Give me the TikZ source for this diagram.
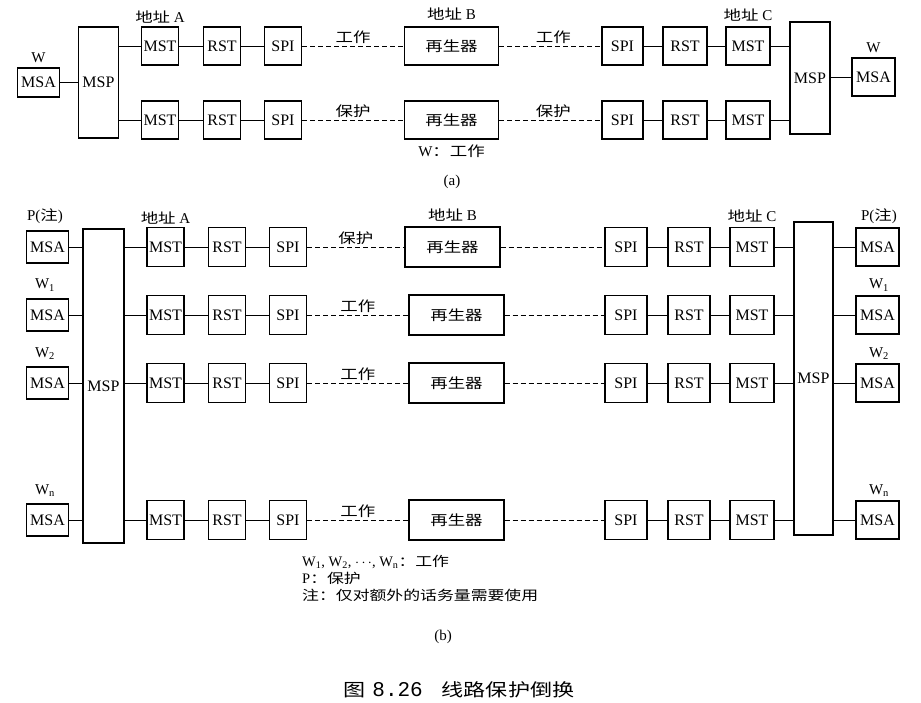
\documentclass[tikz,border=0pt]{standalone}
\usepackage{fontspec}
\setmainfont{Liberation Serif}
\setmonofont{Liberation Mono}
\newfontfamily\cjk[FakeStretch=1.25, Scale=0.93]{Noto Sans CJK SC}
\newcommand{\zh}[1]{{\cjk #1}}
\usetikzlibrary{positioning}

\begin{document}
\begin{tikzpicture}[
  x=1pt, y=-1pt,
  font=\fontsize{16}{18}\selectfont,
  box/.style={
    draw=black, line width=1.3pt,
    inner sep=0pt, minimum width=37pt, minimum height=38pt
  },
  msa/.style  ={box, minimum width=42pt, minimum height=32pt},
  msp/.style  ={box, minimum width=40pt},
  regen/.style={box, minimum width=94pt, font=\cjk\fontsize{15}{17}\selectfont},
  wire/.style ={draw=black, line width=0.7pt},
  link/.style ={draw=black, line width=0.8pt, dash pattern=on 5pt off 3pt},
  tag/.style  ={font=\fontsize{15}{17}\selectfont, inner sep=2pt},
  addr/.style ={tag, inner sep=1pt},
]
\useasboundingbox (0,0) rectangle (921,703);

% ---------- (a) ----------
\node[msa, minimum height=29pt] (msaLa) at (38.5,82.5) {MSA};
\node[tag, above=2pt of msaLa] (tagLa) {W};
\node[msp, minimum height=111pt] (mspLa) at (98.5,82.5) {MSP};
\node[msp, minimum height=112pt] (mspRa) at (810,78) {MSP};
\node[msa, minimum width=43pt, minimum height=38pt] (msaRa) at (873.5,77) {MSA};
\node[tag, above=2pt of msaRa] (tagRa) {W};

\foreach \r/\y/\lab in {1/46/工作, 2/120/保护} {
  \node[box] (mstA\r) at (160,\y) {MST};
  \node[box] (rstA\r) at (222,\y) {RST};
  \node[box] (spiA\r) at (283,\y) {SPI};
  \node[regen] (regA\r) at (451.5,\y) {再生器};
  \node[box, minimum width=41pt] (spiC\r) at (622.5,\y) {SPI};
  \node[box, minimum width=44pt] (rstC\r) at (685,\y) {RST};
  \node[box, minimum width=44pt] (mstC\r) at (748,\y) {MST};

  \draw[wire] (mspLa.east |- mstA\r) -- (mstA\r) -- (rstA\r) -- (spiA\r);
  \draw[link] (spiA\r) -- node[tag, above] {\zh{\lab}} (regA\r);
  \draw[link] (regA\r) -- node[tag, above, xshift=3pt] {\zh{\lab}} (spiC\r);
  \draw[wire] (spiC\r) -- (rstC\r) -- (mstC\r) -- (mstC\r -| mspRa.west);
}
\draw[wire] (msaLa) -- (msaLa -| mspLa.west);
\draw[wire] (mspRa.east |- msaRa) -- (msaRa);

\node[addr, above=1.5pt of mstA1] (siteA) {\zh{地址} A};
\node[addr, above=4.5pt of regA1] (siteB) {\zh{地址} B};
\node[addr, above=4pt of mstC1] (siteC) {\zh{地址} C};
\node[tag, below=3pt of regA2] (noteA) {W\zh{：工作}};
\node[tag] (capA) at (452,182) {(a)};

% ---------- (b) ----------
\node[msp, minimum width=41pt, minimum height=314pt] (mspL) at (103.5,386) {MSP};
\node[msp, minimum width=39pt, minimum height=313pt] (mspR) at (813.5,378.5) {MSP};

\foreach \r/\y/\rx/\lab/\tg in {1/247/452.5/保护/P(\zh{注}),
    2/315/456.5/工作/W\textsubscript{1}, 3/383/456.5/工作/W\textsubscript{2},
    4/520/456.5/工作/W\textsubscript{n}} {
  \node[msa] (msaL\r) at (47.5,\y) {MSA};
  \node[tag, anchor=base] (tagL\r) at (45,\y-26) {\tg};
  \node[box, minimum height=39pt] (mstL\r) at (165.5,\y) {MST};
  \node[box, minimum height=39pt] (rstL\r) at (227,\y) {RST};
  \node[box, minimum height=39pt] (spiL\r) at (288,\y) {SPI};
  \node[regen, minimum width=95pt, minimum height=40pt] (reg\r) at (\rx,\y) {再生器};
  \node[box, minimum width=42pt, minimum height=39pt] (spiR\r) at (626,\y) {SPI};
  \node[box, minimum width=42pt, minimum height=39pt] (rstR\r) at (689,\y) {RST};
  \node[box, minimum width=44pt, minimum height=39pt] (mstR\r) at (752,\y) {MST};
  \node[msa, minimum width=43pt, minimum height=38pt] (msaR\r) at (877.5,\y) {MSA};
  \node[tag, anchor=base] (tagR\r) at (879,\y-26) {\tg};

  \draw[wire] (msaL\r) -- (msaL\r -| mspL.west);
  \draw[wire] (mspL.east |- mstL\r) -- (mstL\r) -- (rstL\r) -- (spiL\r);
  \draw[link] (spiL\r) -- node[tag, above] {\zh{\lab}} (reg\r);
  \draw[link] (reg\r) -- (spiR\r);
  \draw[wire] (spiR\r) -- (rstR\r) -- (mstR\r) -- (mstR\r -| mspR.west);
  \draw[wire] (mspR.east |- msaR\r) -- (msaR\r);
}

\node[addr, above=1pt of mstL1] (siteLb) {\zh{地址} A};
\node[addr, above=4pt of reg1] (siteMb) {\zh{地址} B};
\node[addr, above=3.5pt of mstR1] (siteRb) {\zh{地址} C};

\node[tag, anchor=north west, align=left, font=\fontsize{14.5}{17}\selectfont]
  (legend) at (300,553)
  {W\textsubscript{1}, W\textsubscript{2}, $\cdots$, W\textsubscript{n}\zh{：工作}\\
   P\zh{：保护}\\
   \zh{注：仅对额外的话务量需要使用}};
\node[tag] (capB) at (443,637) {(b)};
\node[font=\fontsize{19}{22}\selectfont] (figcap) at (459,690)
  {\zh{图}\hspace{0.35em}{\fontsize{21}{22}\selectfont\texttt{8.26}}\hspace{1em}\zh{线路保护倒换}};
\end{tikzpicture}
\end{document}
